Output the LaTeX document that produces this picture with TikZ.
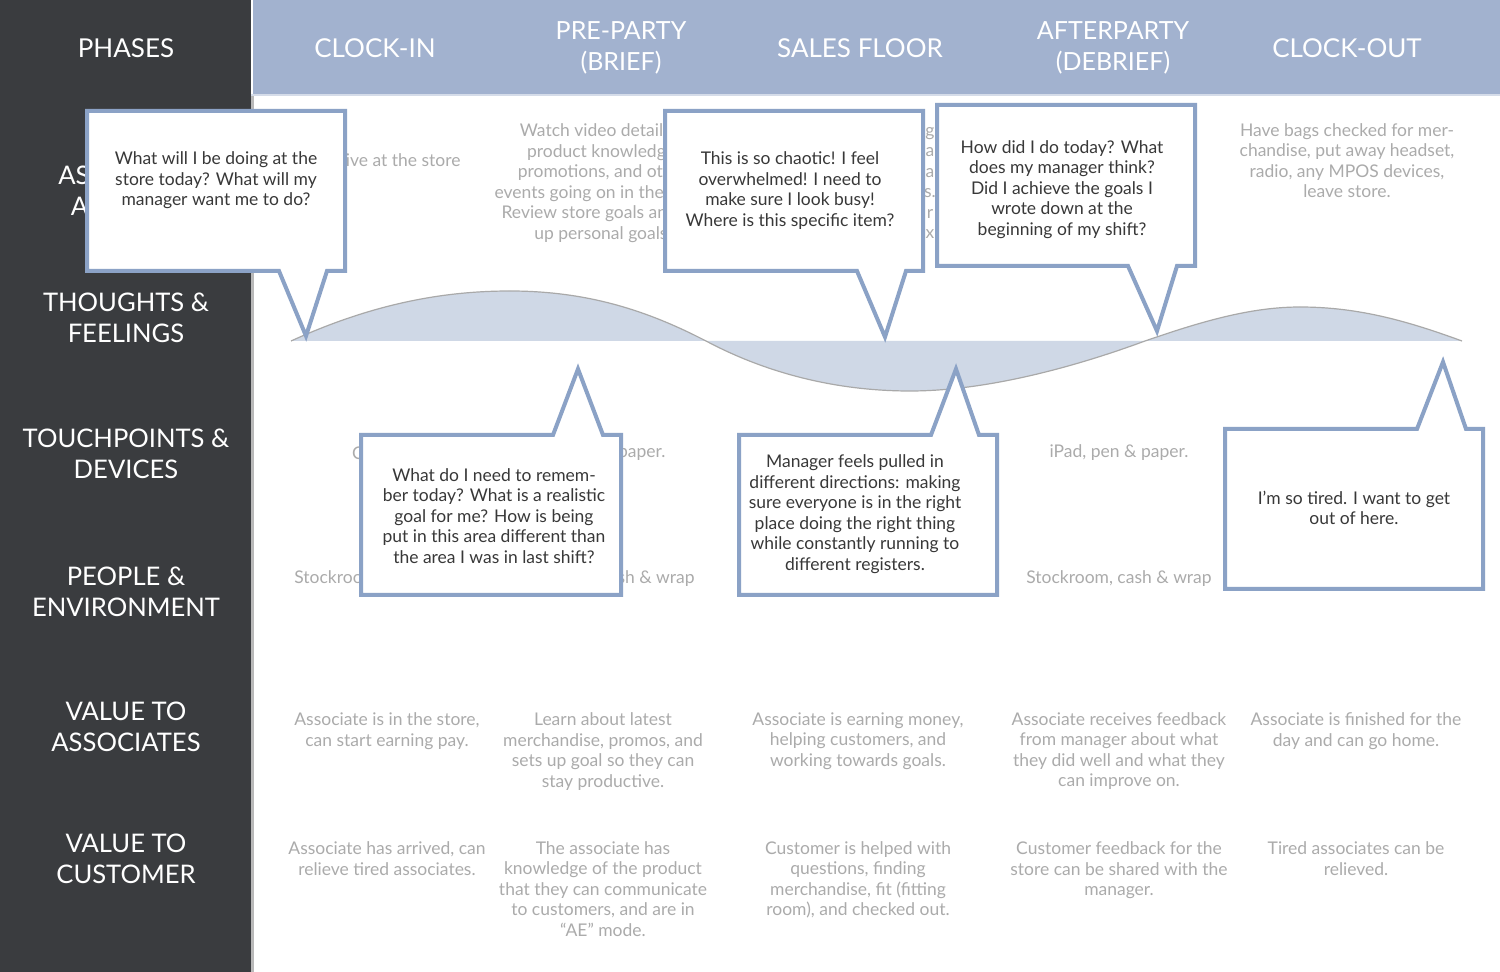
\documentclass[tikz,border=0pt]{standalone}
\usepackage{fontspec}
\setmainfont{Lato}
\definecolor{panel}{HTML}{3A3C3F}
\definecolor{band}{HTML}{A2B2CF}
\definecolor{callline}{HTML}{8BA2C6}
\definecolor{wave}{HTML}{CFD8E6}
\definecolor{waveline}{HTML}{A9A9A9}
\definecolor{soft}{HTML}{ABABAB}
\definecolor{inktext}{HTML}{383838}
\tikzset{
  headtxt/.style={align=center,inner sep=0pt,text=white,font=\fontsize{13}{15.5}\selectfont},
  headtwo/.style={align=center,inner sep=0pt,text=white,font=\fontsize{12.5}{15.5}\selectfont},
  sidetxt/.style={align=center,inner sep=0pt,text=white,font=\fontsize{12.8}{15.5}\selectfont},
  bodytxt/.style={align=center,inner sep=0pt,text=soft,font=\fontsize{8.74}{10.25}\selectfont},
  calltxt/.style={align=center,inner sep=0pt,text=inktext,font=\fontsize{8.74}{10.25}\selectfont},
  bubble/.style={draw=callline,fill=white,line width=2pt,line join=miter,miter limit=10},
}
\begin{document}
\begin{tikzpicture}[x=0.5pt,y=-0.5pt]
\useasboundingbox (0,0) rectangle (1500,972);
\fill[white] (0,0) rectangle (1500,972);
\fill[panel] (0,0) rectangle (251,972);
\fill[gray!55] (251,94) rectangle (254,972);
\fill[band] (253,0) rectangle (1500,94);
\fill[band!45] (251,94) rectangle (1500,96);

\node[headtxt] (h0) at (126,48) {PHASES};
\node[headtxt] (h1) at (375,48) {CLOCK-IN};
\node[headtwo] (h2) at (621,48) {PRE-PARTY\\(BRIEF)};
\node[headtxt] (h3) at (860,48) {SALES FLOOR};
\node[headtwo] (h4) at (1113,48) {AFTERPARTY\\(DEBRIEF)};
\node[headtxt] (h5) at (1347,48) {CLOCK-OUT};

\node[sidetxt] (s1) at (126,190.5) {ASSOCIATE\\ACTIONS};
\node[sidetxt] (s2) at (126,317.5) {THOUGHTS \&\\FEELINGS};
\node[sidetxt] (s3) at (126,453.5) {TOUCHPOINTS \&\\DEVICES};
\node[sidetxt] (s4) at (126,591.5) {PEOPLE \&\\ENVIRONMENT};
\node[sidetxt] (s5) at (126,726.5) {VALUE TO\\ASSOCIATES};
\node[sidetxt] (s6) at (126,858.5) {VALUE TO\\CUSTOMER};

% associate actions
\node[bodytxt] (a1) at (391,160) {Arrive at the store};
\node[bodytxt] (a2) at (603,183) {Watch video detailing\\product knowledge,\\promotions, and other\\events going on in the store.\\Review store goals and set\\up personal goals.};
\node[bodytxt,anchor=center] (a3) at (930,183) {g\\a\\a\\s.\\r\\x};
\node[bodytxt] (a5) at (1347,160.5) {Have bags checked for mer-\\chandise, put away headset,\\radio, any MPOS devices,\\leave store.};

% touchpoints
\node[bodytxt] (t1) at (358,453) {C};
\node[bodytxt] (t2) at (596,453) {iPad, pen \& paper.};
\node[bodytxt] (t4) at (1119,453) {iPad, pen \& paper.};

% people
\node[bodytxt] (p1) at (387,579) {Stockroom, cash \& wrap};
\node[bodytxt] (p2) at (602,579) {Stockroom, cash \& wrap};
\node[bodytxt] (p4) at (1119,579) {Stockroom, cash \& wrap};

% value to associates
\node[bodytxt] (va1) at (387,731) {Associate is in the store,\\can start earning pay.};
\node[bodytxt] (va2) at (603,751.5) {Learn about latest\\merchandise, promos, and\\sets up goal so they can\\stay productive.};
\node[bodytxt] (va3) at (858,741) {Associate is earning money,\\helping customers, and\\working towards goals.};
\node[bodytxt] (va4) at (1119,751) {Associate receives feedback\\from manager about what\\they did well and what they\\can improve on.};
\node[bodytxt] (va5) at (1356,731) {Associate is finished for the\\day and can go home.};

% value to customer
\node[bodytxt] (vc1) at (387,858.5) {Associate has arrived, can\\relieve tired associates.};
\node[bodytxt] (vc2) at (603,889) {The associate has\\knowledge of the product\\that they can communicate\\to customers, and are in\\“AE” mode.};
\node[bodytxt] (vc3) at (858,880) {Customer is helped with\\questions, finding\\merchandise, fit (fitting\\room), and checked out.};
\node[bodytxt] (vc4) at (1119,870.5) {Customer feedback for the\\store can be shared with the\\manager.};
\node[bodytxt] (vc5) at (1356,858.5) {Tired associates can be\\relieved.};

% emotion curve
\fill[wave] (291,341) .. controls (370,305) and (440,291) .. (510,291)
  .. controls (590,291) and (650,312) .. (706,341)
  .. controls (770,375) and (840,391) .. (910,391)
  .. controls (990,391) and (1080,365) .. (1145,341)
  .. controls (1200,322) and (1250,307) .. (1300,307)
  .. controls (1360,307) and (1410,322) .. (1462,341) -- cycle;
\draw[waveline,line width=0.6pt] (291,341) .. controls (370,305) and (440,291) .. (510,291)
  .. controls (590,291) and (650,312) .. (706,341)
  .. controls (770,375) and (840,391) .. (910,391)
  .. controls (990,391) and (1080,365) .. (1145,341)
  .. controls (1200,322) and (1250,307) .. (1300,307)
  .. controls (1360,307) and (1410,322) .. (1462,341);

% callouts
\draw[bubble] (87,111) -- (345,111) -- (345,271) -- (327,271) -- (306,336) -- (279,271) -- (87,271) -- cycle;
\node[calltxt] (c1) at (216,180.5) {What will I be doing at the\\store today? What will my\\manager want me to do?};

\draw[bubble] (665,111) -- (923,111) -- (923,271) -- (906,271) -- (885,337) -- (857,271) -- (665,271) -- cycle;
\node[calltxt] (c2) at (790,190.5) {This is so chaotic! I feel\\overwhelmed! I need to\\make sure I look busy!\\Where is this specific item?};

\draw[bubble] (937,105) -- (1195,105) -- (1195,266) -- (1177,266) -- (1157,331) -- (1128,266) -- (937,266) -- cycle;
\node[calltxt] (c3) at (1062,189.5) {How did I do today? What\\does my manager think?\\Did I achieve the goals I\\wrote down at the\\beginning of my shift?};

\draw[bubble] (361,435) -- (553,435) -- (578,369) -- (603,435) -- (621,435) -- (621,595) -- (361,595) -- cycle;
\node[calltxt] (c4) at (494,516) {What do I need to remem-\\ber today? What is a realistic\\goal for me? How is being\\put in this area different than\\the area I was in last shift?};

\draw[bubble] (739,435) -- (931,435) -- (956,369) -- (979,435) -- (997,435) -- (997,595) -- (739,595) -- cycle;
\node[calltxt] (c5) at (855,514) {Manager feels pulled in\\different directions: making\\sure everyone is in the right\\place doing the right thing\\while constantly running to\\different registers.};

\draw[bubble] (1225,429) -- (1417,429) -- (1443,362) -- (1466,429) -- (1483,429) -- (1483,589) -- (1225,589) -- cycle;
\node[calltxt] (c6) at (1354,508) {I'm so tired. I want to get\\out of here.};
\end{tikzpicture}
\end{document}
